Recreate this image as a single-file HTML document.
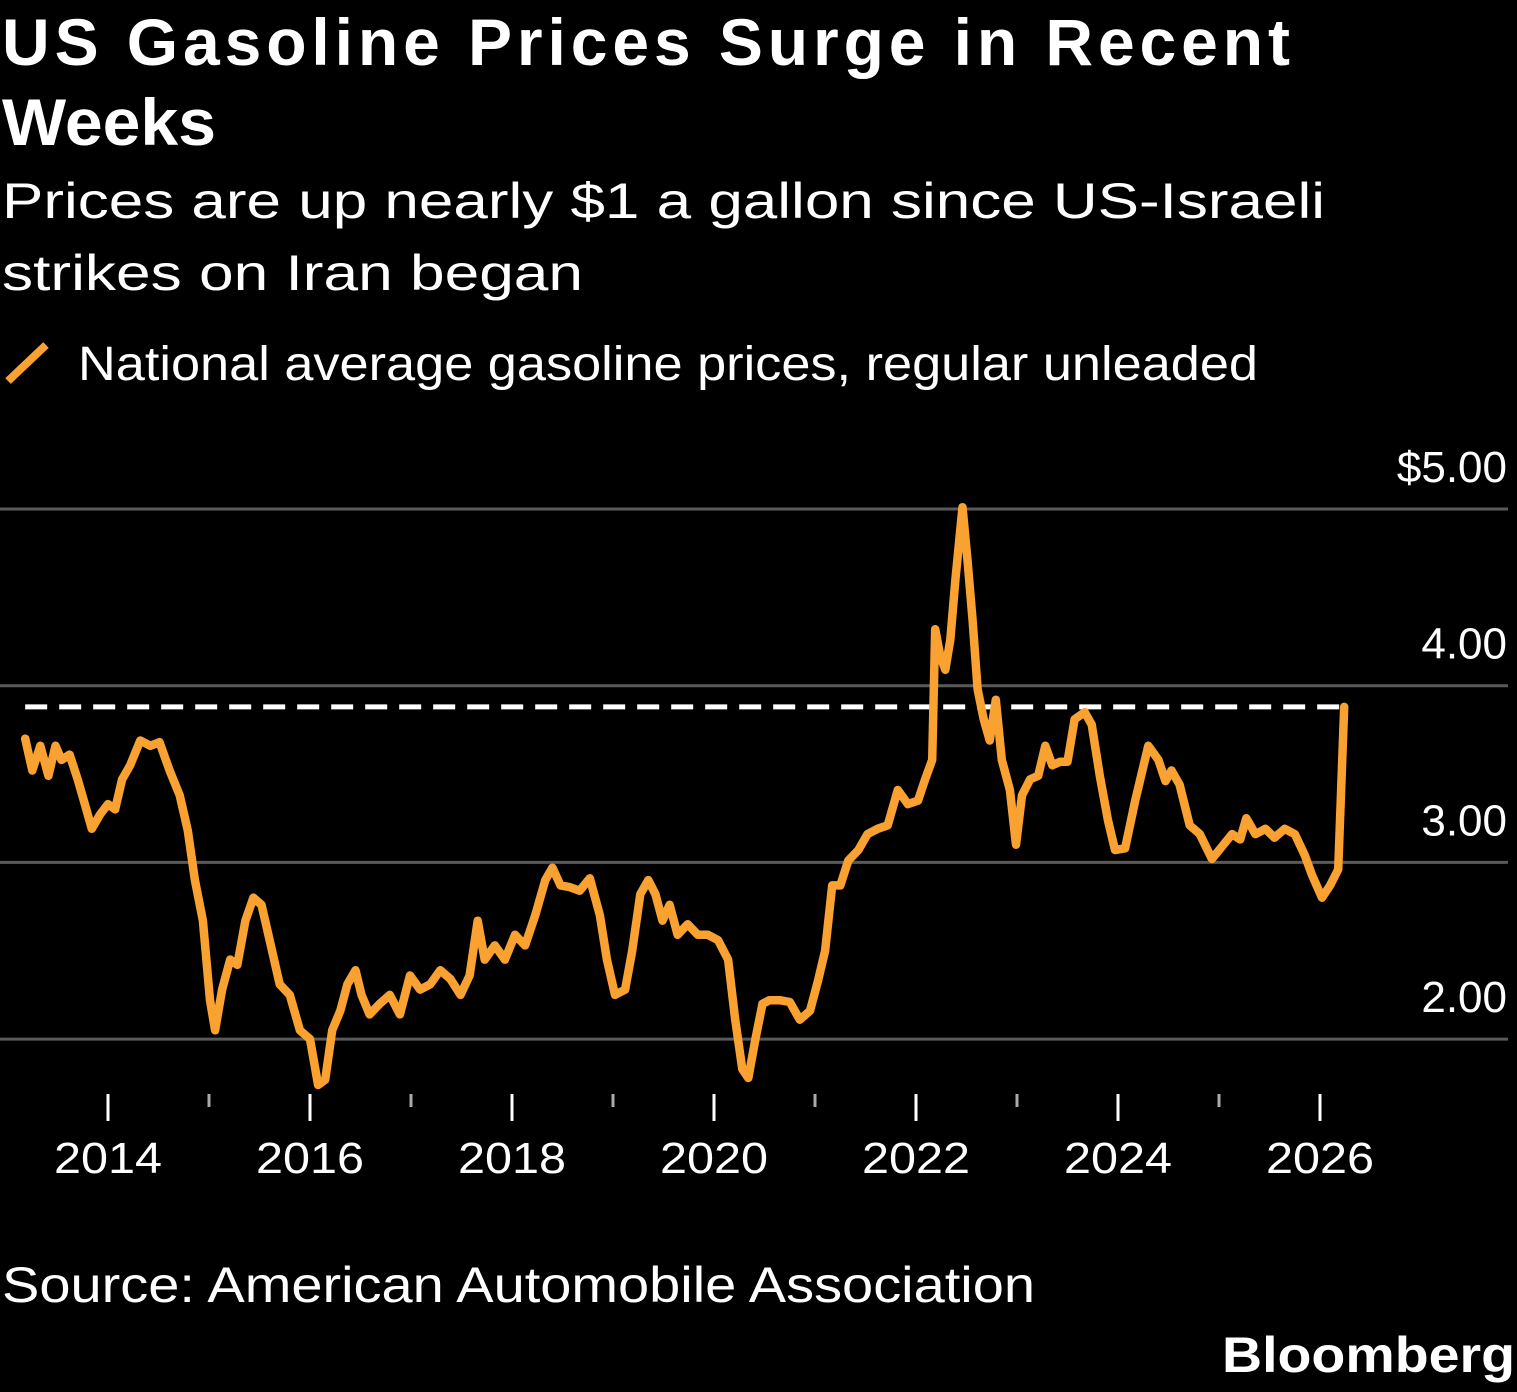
<!DOCTYPE html>
<html><head><meta charset="utf-8">
<style>
html,body{margin:0;padding:0;background:#000;}
svg{display:block;}
text{font-family:"Liberation Sans",sans-serif;fill:#fff;}
</style></head>
<body>
<svg id="chart" width="1517" height="1392" viewBox="0 0 1517 1392" xmlns="http://www.w3.org/2000/svg">
<rect width="1517" height="1392" fill="#000"/>
<text x="2" y="65" font-size="66" font-weight="bold" textLength="1288" lengthAdjust="spacing">US Gasoline Prices Surge in Recent</text>
<text x="2" y="145" font-size="66" font-weight="bold" textLength="214" lengthAdjust="spacingAndGlyphs">Weeks</text>
<text x="2" y="218" font-size="50" textLength="1323" lengthAdjust="spacingAndGlyphs">Prices are up nearly $1 a gallon since US-Israeli</text>
<text x="2" y="290" font-size="50" textLength="581" lengthAdjust="spacingAndGlyphs">strikes on Iran began</text>
<g>
<line x1="8" y1="381" x2="46" y2="345" stroke="#f9a131" stroke-width="8"/>
<text x="78" y="380" font-size="48" textLength="1180" lengthAdjust="spacingAndGlyphs">National average gasoline prices, regular unleaded</text>
</g>
<g id="grid"></g>
<g id="axes"></g>
<g id="plot"></g>
<text x="2" y="1302" font-size="50" textLength="1033" lengthAdjust="spacingAndGlyphs">Source: American Automobile Association</text>
<text x="1515" y="1372" font-size="50" font-weight="bold" text-anchor="end" textLength="293" lengthAdjust="spacingAndGlyphs">Bloomberg</text>
</svg>
<script>
const dates = [2013.18,2013.25,2013.33,2013.41,2013.48,2013.54,2013.62,2013.70,2013.77,2013.84,2013.92,2014.00,2014.07,2014.14,2014.22,2014.32,2014.42,2014.51,2014.61,2014.71,2014.79,2014.86,2014.94,2015.01,2015.06,2015.13,2015.21,2015.28,2015.36,2015.44,2015.52,2015.60,2015.70,2015.80,2015.90,2016.00,2016.08,2016.15,2016.22,2016.30,2016.37,2016.45,2016.51,2016.59,2016.69,2016.79,2016.89,2016.99,2017.09,2017.19,2017.29,2017.39,2017.49,2017.58,2017.66,2017.73,2017.83,2017.93,2018.03,2018.13,2018.23,2018.33,2018.40,2018.48,2018.57,2018.67,2018.77,2018.87,2018.94,2019.02,2019.12,2019.19,2019.27,2019.35,2019.42,2019.49,2019.56,2019.64,2019.74,2019.84,2019.94,2020.04,2020.14,2020.21,2020.28,2020.34,2020.41,2020.48,2020.55,2020.65,2020.75,2020.85,2020.95,2021.03,2021.10,2021.17,2021.25,2021.33,2021.43,2021.52,2021.62,2021.72,2021.82,2021.92,2022.02,2022.09,2022.16,2022.19,2022.24,2022.29,2022.34,2022.39,2022.46,2022.51,2022.56,2022.61,2022.67,2022.73,2022.79,2022.85,2022.93,2022.99,2023.05,2023.13,2023.21,2023.28,2023.35,2023.43,2023.50,2023.57,2023.67,2023.74,2023.82,2023.90,2023.97,2024.07,2024.17,2024.30,2024.40,2024.47,2024.53,2024.61,2024.71,2024.81,2024.93,2025.03,2025.13,2025.21,2025.27,2025.36,2025.46,2025.55,2025.65,2025.75,2025.85,2025.92,2026.02,2026.10,2026.18,2026.24];
const prices = [3.70,3.52,3.66,3.49,3.66,3.58,3.61,3.47,3.33,3.19,3.27,3.33,3.30,3.47,3.55,3.69,3.66,3.68,3.52,3.38,3.18,2.90,2.67,2.22,2.05,2.28,2.45,2.42,2.67,2.80,2.76,2.56,2.31,2.25,2.05,2.00,1.74,1.77,2.05,2.16,2.31,2.39,2.25,2.14,2.20,2.25,2.14,2.36,2.28,2.31,2.39,2.34,2.25,2.36,2.67,2.45,2.53,2.45,2.59,2.53,2.70,2.90,2.97,2.87,2.86,2.84,2.91,2.70,2.45,2.25,2.28,2.50,2.82,2.90,2.82,2.67,2.76,2.59,2.65,2.59,2.59,2.56,2.45,2.11,1.83,1.78,2.00,2.20,2.22,2.22,2.21,2.11,2.16,2.33,2.50,2.87,2.87,3.01,3.07,3.16,3.19,3.21,3.41,3.33,3.35,3.47,3.58,4.32,4.17,4.09,4.26,4.60,5.01,4.71,4.37,3.98,3.81,3.69,3.92,3.58,3.41,3.10,3.38,3.47,3.49,3.66,3.55,3.57,3.57,3.81,3.85,3.78,3.49,3.24,3.07,3.08,3.35,3.66,3.58,3.46,3.52,3.44,3.21,3.16,3.02,3.09,3.16,3.13,3.25,3.16,3.19,3.14,3.19,3.16,3.04,2.93,2.80,2.87,2.96,3.88];
const referencePrice = [3.88];
const yTicks = [5, 4, 3, 2];
const yTickLabels = ["$5.00", "4.00", "3.00", "2.00"];
const xMajorYears = [2014, 2016, 2018, 2020, 2022, 2024, 2026];
const xMinorYears = [2015, 2017, 2019, 2021, 2023, 2025];

const NS = "http://www.w3.org/2000/svg";
function xScale(yr){ return 108 + (yr - 2014) * 101; }
function yScale(p){ return 509 + (5 - p) * 176.7; }
function mk(tag, attrs, parent){
  const e = document.createElementNS(NS, tag);
  for (const k in attrs) e.setAttribute(k, attrs[k]);
  parent.appendChild(e);
  return e;
}
const grid = document.getElementById('grid');
const axes = document.getElementById('axes');
const plot = document.getElementById('plot');

yTicks.forEach((v, i) => {
  const y = yScale(v);
  const gl = mk('line', {x1:0, x2:1508, y1:y, y2:y, stroke:'#5a5a5a', 'stroke-width':3}, grid);
  
  
  const t = mk('text', {x:1507, y:y - 27, 'font-size':44, 'text-anchor':'end'}, axes);
  
  
  t.textContent = yTickLabels[i];
});

xMajorYears.forEach(yr => {
  const x = xScale(yr);
  const tk = mk('line', {x1:x, x2:x, y1:1094, y2:1121, stroke:'#fff', 'stroke-width':3}, axes);
  
  
  const t = mk('text', {x:x, y:1173, 'font-size':44, 'text-anchor':'middle', textLength:108, lengthAdjust:'spacingAndGlyphs'}, axes);
  
  
  t.textContent = String(yr);
});
xMinorYears.forEach(yr => {
  const x = xScale(yr);
  const tk = mk('line', {x1:x, x2:x, y1:1094, y2:1107, stroke:'#aaa', 'stroke-width':3}, axes);
  
  
});

const ry = yScale(referencePrice[0]);
const ref = mk('line', {x1:xScale(dates[0]), x2:xScale(dates[dates.length-1]), y1:ry, y2:ry, stroke:'#fff', 'stroke-width':5, 'stroke-dasharray':'22 12'}, plot);



const pts = dates.map((d, i) => xScale(d).toFixed(1) + ',' + yScale(prices[i]).toFixed(1)).join(' ');
const line = mk('polyline', {points:pts, fill:'none', stroke:'#f9a131', 'stroke-width':8.5, 'stroke-linejoin':'round', 'stroke-linecap':'round'}, plot);


</script>
</body></html>
